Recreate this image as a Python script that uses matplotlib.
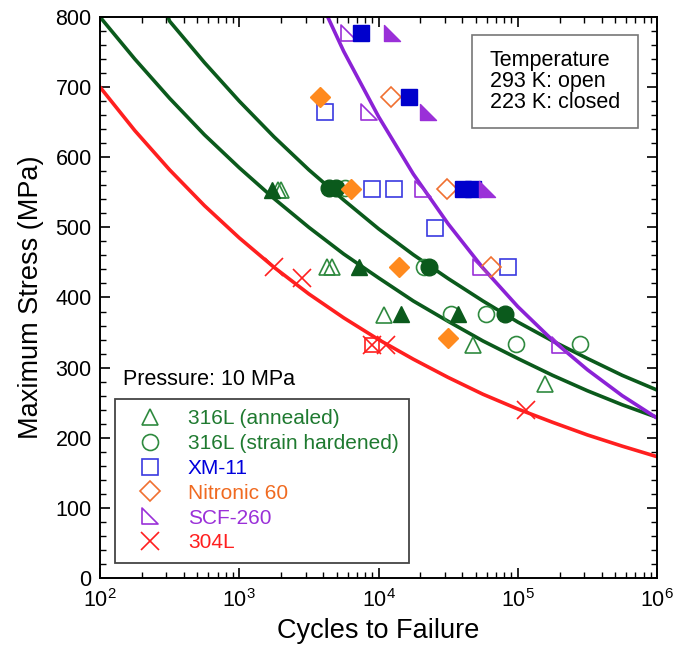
import matplotlib
matplotlib.use('Agg')
import matplotlib.pyplot as plt
from matplotlib.path import Path
from matplotlib.lines import Line2D
from matplotlib.patches import Rectangle
from matplotlib.ticker import LogLocator, MultipleLocator

plt.rcParams['font.family'] = ['Liberation Sans', 'DejaVu Sans']
plt.rcParams['mathtext.fontset'] = 'custom'
plt.rcParams['mathtext.rm'] = 'Liberation Sans'

#### data ####
# 316L annealed (triangles)
ann_open_N = [1900, 2000, 4300, 4650, 10960, 47400, 156000]
ann_open_S = [553, 553, 444, 444, 375, 332, 277]
ann_fill_N = [1718, 7230, 14450, 37000]
ann_fill_S = [553, 444, 377, 377]

# 316L strain hardened (circles)
sh_open_N = [5700, 21300, 33100, 59300, 97500, 279000]
sh_open_S = [556, 443, 377, 377, 334, 334]
sh_fill_N = [4400, 4950, 23100, 80400]
sh_fill_S = [556, 556, 444, 377]

# XM-11 (squares)
xm_open_N = [4160, 9020, 12950, 25500, 84800]
xm_open_S = [665, 554, 554, 499, 444]
xm_fill_N = [7530, 16600, 40600, 48000]
xm_fill_S = [777, 686, 554, 554]

# Nitronic 60 (diamonds)
ni_open_N = [12250, 30800, 64400]
ni_open_S = [686, 554, 443]
ni_fill_N = [3830, 6370, 14060, 31700]
ni_fill_S = [686, 554, 443, 342]

# SCF-260 (right triangles)
scf_open_N = [6120, 8550, 20700, 54600, 200000]
scf_open_S = [777, 665, 554, 443, 332]
scf_fill_N = [12570, 22500, 60500]
scf_fill_S = [777, 665, 554]

# 304L (crosses), one of them boxed
ss_N = [1766, 2810, 8930, 11270, 115000]
ss_S = [444, 428, 332, 332, 240]
ss_box_N = [8930]
ss_box_S = [332]

# fit curves, read every quarter decade
curve_N = [1.0e2, 1.778e2, 3.162e2, 5.623e2, 1.0e3, 1.778e3, 3.162e3, 5.623e3, 1.0e4,
           1.778e4, 3.162e4, 5.623e4, 1.0e5, 1.778e5, 3.162e5, 5.623e5, 1.0e6]
red_S = [700, 638, 582, 531, 485, 443, 405, 371, 340, 312, 286, 262, 241, 222, 204, 188, 173]
sh_curve_S = [1000, 925, 794, 735, 680, 629, 582, 539, 498, 461, 427, 395, 365, 338, 313, 289, 268]
ann_curve_S = [800, 740, 684, 632, 585, 541, 500, 462, 428, 395, 366, 338, 313, 289, 267, 247, 229]
scf_curve_N = curve_N[6:]
scf_curve_S = [858, 751, 658, 576, 505, 442, 387, 339, 297, 260, 228]

green_dark = '#0b5a1c'
green_open = '#2f8a3f'
blue = '#0000cc'
blue_open = '#3a3ae0'
orange = '#ff8a1e'
orange_open = '#f07030'
purple = '#9a30d8'
purple_line = '#8b22d6'
red = '#ff1f1f'

# right-angle triangle marker
rtri = Path([(-1, 1), (-1, -1), (1, -1), (-1, 1)],
            [Path.MOVETO, Path.LINETO, Path.LINETO, Path.CLOSEPOLY])

fig = plt.figure(figsize=(6.74, 6.46), dpi=100)
ax = fig.add_axes([0.1484, 0.1053, 0.8264, 0.8684])

# curves
ax.plot(curve_N, red_S, color=red, linewidth=2.6, zorder=2)
ax.plot(curve_N, sh_curve_S, color=green_dark, linewidth=2.6, zorder=2)
ax.plot(curve_N, ann_curve_S, color=green_dark, linewidth=2.6, zorder=2)
ax.plot(scf_curve_N, scf_curve_S, color=purple_line, linewidth=2.6, zorder=2)

ms = 11.5
mew = 1.2
ms_d = 10
ms_t = 12
# open markers
ax.plot(ann_open_N, ann_open_S, '^', ms=ms, mfc='none', mec=green_open, mew=mew, ls='none')
ax.plot(sh_open_N, sh_open_S, 'o', ms=ms, mfc='none', mec=green_open, mew=mew, ls='none')
ax.plot(xm_open_N, xm_open_S, 's', ms=ms, mfc='none', mec=blue_open, mew=mew, ls='none')
ax.plot(ni_open_N, ni_open_S, 'D', ms=ms_d, mfc='none', mec=orange_open, mew=mew, ls='none')
ax.plot(scf_open_N, scf_open_S, marker=rtri, ms=ms_t, mfc='none', mec=purple, mew=mew, ls='none')
ax.plot(ss_box_N, ss_box_S, 's', ms=ms - 1, mfc='none', mec=red, mew=mew, ls='none')
ax.plot(ss_N, ss_S, 'x', ms=ms + 1, mec=red, mew=mew, ls='none')

# filled markers
ax.plot(ann_fill_N, ann_fill_S, '^', ms=ms, color=green_dark, mec=green_dark, ls='none')
ax.plot(sh_fill_N, sh_fill_S, 'o', ms=ms + 0.5, color=green_dark, mec=green_dark, ls='none')
ax.plot(xm_fill_N, xm_fill_S, 's', ms=ms, color=blue, mec=blue, ls='none')
ax.plot(ni_fill_N, ni_fill_S, 'D', ms=ms_d, color=orange, mec=orange, ls='none')
ax.plot(scf_fill_N, scf_fill_S, marker=rtri, ms=ms_t, color=purple, mec=purple, ls='none')

ax.set_xscale('log')
ax.set_xlim(1e2, 1e6)
ax.set_ylim(0, 800)
ax.yaxis.set_major_locator(MultipleLocator(100))
ax.yaxis.set_minor_locator(MultipleLocator(20))
ax.xaxis.set_minor_locator(LogLocator(base=10, subs=range(2, 10), numticks=20))

ax.tick_params(which='both', direction='in', top=True, right=True, labelsize=15.5)
ax.tick_params(which='major', length=7, width=1.2)
ax.tick_params(which='minor', length=4, width=1.0)
ax.tick_params(axis='x', which='major', pad=8)
ax.tick_params(axis='y', which='major', pad=6)
for sp in ax.spines.values():
    sp.set_linewidth(1.4)

ax.set_xlabel('Cycles to Failure', fontsize=19.5, labelpad=4)
ax.set_ylabel('Maximum Stress (MPa)', fontsize=19.5, labelpad=8)

# legend
handles = [
    Line2D([], [], marker='^', ls='none', ms=ms, mfc='none', mec=green_open, mew=mew),
    Line2D([], [], marker='o', ls='none', ms=ms, mfc='none', mec=green_open, mew=mew),
    Line2D([], [], marker='s', ls='none', ms=ms, mfc='none', mec=blue_open, mew=mew),
    Line2D([], [], marker='D', ls='none', ms=ms_d, mfc='none', mec=orange_open, mew=mew),
    Line2D([], [], marker=rtri, ls='none', ms=ms_t, mfc='none', mec=purple, mew=mew),
    Line2D([], [], marker='x', ls='none', ms=ms + 1, mec=red, mew=mew),
]
labels = ['316L (annealed)', '316L (strain hardened)', 'XM-11', 'Nitronic 60', 'SCF-260', '304L']
text_colors = ['#1f7a30', '#1f7a30', '#0000dd', '#f06a20', '#9a30d8', '#ff1f1f']
leg = ax.legend(handles, labels, loc='lower left', bbox_to_anchor=(0.027, 0.027),
                borderaxespad=0, fontsize=15, labelspacing=0.28, handletextpad=0.6,
                handlelength=2.4, borderpad=0.5, fancybox=False, framealpha=1)
leg.get_frame().set_edgecolor('#444444')
leg.get_frame().set_linewidth(1.3)
for t, c in zip(leg.get_texts(), text_colors):
    t.set_color(c)

ax.text(0.041, 0.353, 'Pressure: 10 MPa', transform=ax.transAxes, fontsize=15.5,
        va='center', ha='left')

# temperature box
ax.add_patch(Rectangle((0.668, 0.802), 0.297, 0.166, transform=ax.transAxes,
                       fill=False, edgecolor='#777777', linewidth=1.2, zorder=5))
ax.text(0.70, 0.885, 'Temperature\n293 K: open\n223 K: closed', transform=ax.transAxes,
        fontsize=15.5, va='center', ha='left', linespacing=1.0, zorder=6)

fig.savefig('out.png', dpi=100)
